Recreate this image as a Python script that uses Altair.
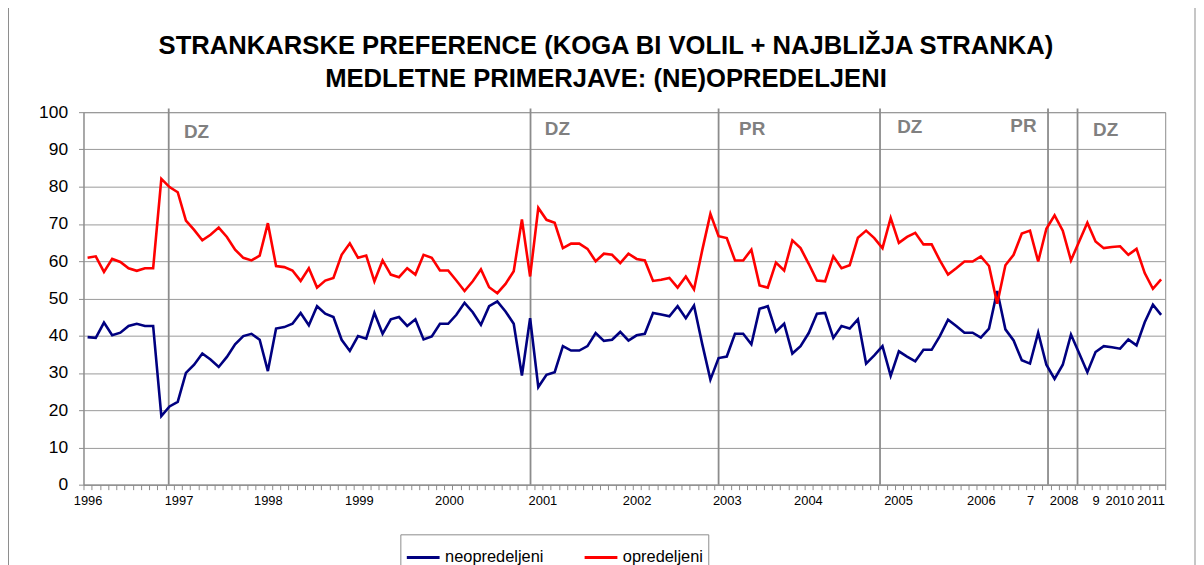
import altair as alt
import pandas as pd

title_lines = ["STRANKARSKE PREFERENCE (KOGA BI VOLIL + NAJBLIŽJA STRANKA)",
               "MEDLETNE PRIMERJAVE: (NE)OPREDELJENI"]

neopredeljeni = [
    39.6, 39.4, 43.5, 40.1, 40.8, 42.6, 43.2, 42.6, 42.6, 18.4,
    21.0, 22.2, 30.0, 32.2, 35.2, 33.6, 31.6, 34.3, 37.7, 39.9,
    40.5, 38.9, 30.5, 41.9, 42.3, 43.2, 46.1, 42.8, 47.9, 45.9,
    45.0, 38.9, 35.9, 39.9, 39.2, 46.1, 40.5, 44.4, 45.0, 42.6,
    44.4, 39.0, 39.8, 43.2, 43.2, 45.6, 48.8, 46.3, 42.9, 47.9,
    49.2, 46.5, 43.2, 29.3, 44.7, 26.2, 29.5, 30.2, 37.2, 36.0,
    36.0, 37.2, 40.7, 38.6, 38.9, 41.0, 38.7, 40.1, 40.5, 46.1,
    45.7, 45.2, 47.9, 44.7, 48.1, 37.8, 28.2, 34.0, 34.4, 40.5,
    40.5, 37.7, 47.2, 47.9, 41.1, 43.2, 35.2, 37.2, 40.7, 45.9,
    46.1, 39.4, 42.6, 41.9, 44.4, 32.5, 34.7, 37.2, 29.2, 35.8,
    34.4, 33.1, 36.2, 36.2, 39.9, 44.3, 42.6, 40.8, 40.8, 39.5,
    41.9, 52.0, 41.7, 38.7, 33.4, 32.5, 40.8, 32.2, 28.4, 32.2,
    40.3, 35.3, 30.2, 35.6, 37.2, 36.9, 36.5, 39.0, 37.4, 43.6,
    48.3, 45.6,
]

opredeljeni = [
    60.9, 61.3, 57.1, 60.6, 59.8, 58.1, 57.4, 58.1, 58.1, 82.1,
    79.9, 78.5, 70.9, 68.4, 65.6, 67.1, 69.0, 66.5, 63.1, 60.9,
    60.2, 61.5, 70.2, 58.7, 58.4, 57.5, 54.7, 58.1, 52.9, 54.8,
    55.5, 61.7, 64.8, 60.9, 61.5, 54.6, 60.2, 56.4, 55.7, 58.1,
    56.4, 61.7, 60.9, 57.5, 57.5, 54.8, 52.0, 54.6, 57.8, 53.0,
    51.4, 53.9, 57.3, 71.2, 55.9, 74.3, 71.1, 70.3, 63.5, 64.7,
    64.7, 63.3, 60.0, 62.0, 61.7, 59.5, 62.0, 60.6, 60.2, 54.7,
    55.0, 55.5, 52.9, 55.9, 52.4, 62.9, 72.7, 66.7, 66.2, 60.2,
    60.2, 63.1, 53.5, 52.9, 59.6, 57.5, 65.6, 63.5, 59.3, 54.8,
    54.6, 61.3, 58.1, 58.9, 66.3, 68.2, 66.2, 63.5, 71.6, 64.9,
    66.5, 67.6, 64.5, 64.5, 60.2, 56.4, 58.1, 59.9, 59.9, 61.3,
    58.7, 48.6, 58.9, 61.7, 67.4, 68.2, 59.9, 68.7, 72.3, 68.2,
    60.2, 65.3, 70.3, 65.3, 63.5, 63.8, 64.0, 61.7, 63.3, 56.8,
    52.6, 55.1,
]

series_names = ["neopredeljeni", "opredeljeni"]
series_colors = ["#000080", "#FF0000"]

# x-axis labels (survey index where the label sits)
label_pos = [0, 11.1, 22, 33.1, 44.1, 55.5, 67, 78, 87.9, 98.9, 109, 115, 119.1, 123, 125.9, 129.7]
label_txt = ["1996", "1997", "1998", "1999", "2000", "2001", "2002", "2003",
             "2004", "2005", "2006", "7", "2008", "9", "2010", "2011"]

# election markers
event_pos = [9.9, 54.05, 77.0, 96.7, 117.2, 120.8]
event_lab = ["DZ", "DZ", "PR", "DZ", "PR", "DZ"]
event_lab_x = [11.75, 55.8, 79.5, 98.8, 112.6, 122.7]
event_lab_y = [94.8, 95.6, 95.6, 96.0, 96.2, 95.1]

n = len(neopredeljeni)
df = pd.DataFrame({
    "i": list(range(n)) * 2,
    "value": neopredeljeni + opredeljeni,
    "series": [series_names[0]] * n + [series_names[1]] * n,
})
df_ev = pd.DataFrame({"x": event_pos, "y0": [0] * len(event_pos), "y1": [101] * len(event_pos)})
df_lab = pd.DataFrame({"x": event_lab_x, "y": event_lab_y, "t": event_lab})
df_ticks = pd.DataFrame({"b": [k - 0.5 for k in range(n + 1)]})
one = pd.DataFrame({"k": [0]})

FONT = "Liberation Sans"
W, H = 1089, 375
xscale = alt.Scale(domain=[-0.5, n - 0.5], nice=False, zero=False)
yscale = alt.Scale(domain=[0, 100], nice=False)

y_axis = alt.Axis(
    values=list(range(0, 101, 10)), labelFontSize=17.5, labelFont=FONT, labelColor="#000000",
    tickSize=5, tickColor="#8c8c8c", labelPadding=11, domainColor="#8c8c8c",
    gridColor="#999999", gridWidth=1, title=None)

label_expr = "indexof({p}, datum.value) >= 0 ? {t}[indexof({p}, datum.value)] : ''".format(
    p="[" + ",".join(str(v) for v in label_pos) + "]",
    t="[" + ",".join("'" + s + "'" for s in label_txt) + "]",
)

# outer chart-area frame (only the side edges fall inside the picture)
frame = alt.Chart(one).mark_rect(
    fill=None, stroke="#8c8c8c", strokeWidth=1, clip=False
).encode(
    x=alt.value(-75.5), x2=alt.value(W + 30),
    y=alt.value(-140), y2=alt.value(H + 120),
)

title1 = alt.Chart(one).mark_text(
    text=title_lines[0], font=FONT, fontSize=25.8, fontWeight="bold", color="#000000",
    align="center", baseline="middle"
).encode(x=alt.value(526), y=alt.value(-67))

title2 = alt.Chart(one).mark_text(
    text=title_lines[1], font=FONT, fontSize=25.8, fontWeight="bold", color="#000000",
    align="center", baseline="middle"
).encode(x=alt.value(526), y=alt.value(-33))

rules = alt.Chart(df_ev).mark_rule(color="#8c8c8c", strokeWidth=1.8).encode(
    x=alt.X("x:Q", scale=xscale, axis=None),
    y=alt.Y("y0:Q", scale=yscale, axis=y_axis),
    y2="y1:Q",
)

ticks = alt.Chart(df_ticks).mark_rule(opacity=0).encode(
    x=alt.X("b:Q", scale=xscale, axis=alt.Axis(
        orient="bottom", values=df_ticks["b"].tolist(), labels=False, ticks=True,
        tickSize=5, tickColor="#8c8c8c", domain=False, grid=False, title=None)),
)

lines = alt.Chart(df).mark_line(strokeWidth=2.6).encode(
    x=alt.X("i:Q", scale=xscale, axis=alt.Axis(
        orient="bottom", values=label_pos, labelExpr=label_expr, ticks=False, tickSize=0,
        labelPadding=10, labelFontSize=13, labelFont=FONT, labelColor="#000000",
        labelOverlap=False, labelFlush=False, domainColor="#8c8c8c", grid=False, title=None)),
    y=alt.Y("value:Q", scale=yscale, axis=y_axis),
    color=alt.Color("series:N", scale=alt.Scale(domain=series_names, range=series_colors),
                    legend=alt.Legend(
                        orient="none", legendX=319, legendY=425, direction="horizontal",
                        title=None, strokeColor="#8c8c8c", padding=5, fillColor="white",
                        symbolType="stroke", symbolSize=1089, symbolStrokeWidth=3,
                        labelFontSize=16.5, labelFont=FONT, labelColor="#000000",
                        labelOffset=4, columnPadding=34)),
)

texts = alt.Chart(df_lab).mark_text(
    align="left", baseline="middle", fontSize=19, fontWeight="bold", color="#808080", font=FONT
).encode(
    x=alt.X("x:Q", scale=xscale, axis=None),
    y=alt.Y("y:Q", scale=yscale, axis=y_axis),
    text="t:N",
)

chart = alt.layer(frame, rules, ticks, lines, texts, title1, title2).resolve_axis(
    x="independent"
).properties(
    width=W,
    height=H,
    autosize=alt.AutoSizeParams(type="none"),
    padding={"left": 76, "top": 103, "right": 31, "bottom": 79},
).configure_view(stroke="#8c8c8c")

chart.save("out.html", embed_options={"renderer": "svg", "actions": False})
